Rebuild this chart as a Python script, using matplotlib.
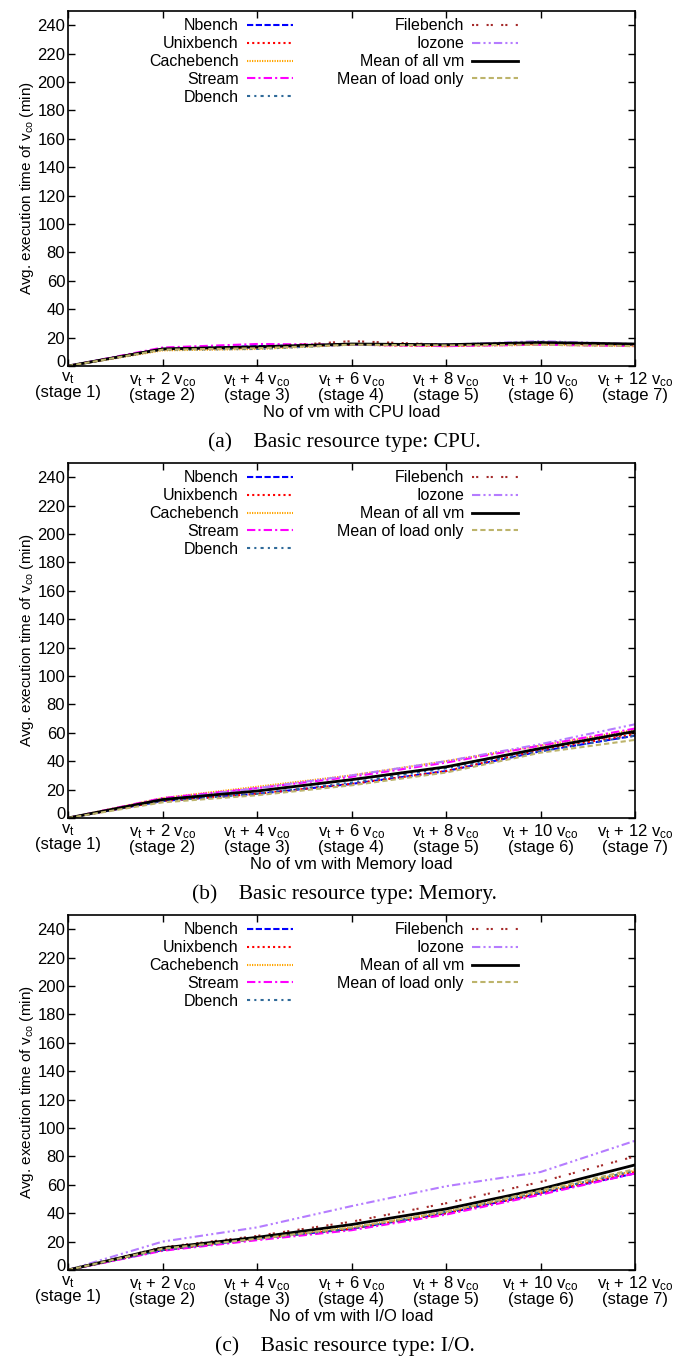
import matplotlib
matplotlib.use("Agg")
import matplotlib.pyplot as plt
import matplotlib.transforms as mtransforms
import numpy as np

plt.rcParams['font.family'] = ['Liberation Sans', 'DejaVu Sans']
plt.rcParams['mathtext.default'] = 'regular'

stages = [0, 1, 2, 3, 4, 5, 6]
stage_labels = ["$v_t$\n(stage 1)",
                "$v_t$ + 2 $v_{co}$\n(stage 2)",
                "$v_t$ + 4 $v_{co}$\n(stage 3)",
                "$v_t$ + 6 $v_{co}$\n(stage 4)",
                "$v_t$ + 8 $v_{co}$\n(stage 5)",
                "$v_t$ + 10 $v_{co}$\n(stage 6)",
                "$v_t$ + 12 $v_{co}$\n(stage 7)"]

names = ["Nbench", "Unixbench", "Cachebench", "Stream", "Dbench",
         "Filebench", "Iozone", "Mean of all vm", "Mean of load only"]

# CPU load
cpu_nbench = [0, 12, 14, 15, 15, 16, 15]
cpu_unixbench = [0, 12, 13, 15, 14, 16, 15]
cpu_cachebench = [0, 11, 12, 15, 14, 15, 14]
cpu_stream = [0, 13, 15.5, 15, 14, 15, 14]
cpu_dbench = [0, 11.5, 12, 15, 15, 17, 15]
cpu_filebench = [0, 12, 13, 17.5, 15, 16, 15]
cpu_iozone = [0, 12, 13, 15, 15, 17.5, 15.5]
cpu_mean_all = [0, 12, 13.5, 15.5, 15, 16.5, 15.5]
cpu_mean_load = [0, 11.5, 12.5, 15, 14.5, 15, 14]

# Memory load
mem_nbench = [0, 12, 17, 24, 33, 47, 58]
mem_unixbench = [0, 12, 17, 24, 33, 48, 59]
mem_cachebench = [0, 14, 22, 30, 40, 51, 62]
mem_stream = [0, 14, 21, 29, 39, 51, 63]
mem_dbench = [0, 12, 17, 25, 35, 47, 58]
mem_filebench = [0, 13, 19, 27, 36, 49, 60]
mem_iozone = [0, 13, 21, 30, 40, 52, 66]
mem_mean_all = [0, 13, 19, 27, 36, 49, 61]
mem_mean_load = [0, 11, 16, 23, 32, 46, 55]

# I/O load
io_nbench = [0, 14, 22, 29, 40, 54, 68]
io_unixbench = [0, 14, 22, 29, 40, 54, 69]
io_cachebench = [0, 15, 22, 30, 41, 55, 70]
io_stream = [0, 13.5, 21, 28, 39, 53, 68]
io_dbench = [0, 14, 22, 29, 41, 55, 70]
io_filebench = [0, 16, 24, 34, 47, 62, 80]
io_iozone = [0, 20, 30, 45, 59, 69, 91]
io_mean_all = [0, 15.5, 23, 32, 43, 57, 74]
io_mean_load = [0, 15, 22, 30, 41, 56, 71]

panels = [
    ([cpu_nbench, cpu_unixbench, cpu_cachebench, cpu_stream, cpu_dbench,
      cpu_filebench, cpu_iozone, cpu_mean_all, cpu_mean_load],
     "No of vm with CPU load", "(a)    Basic resource type: CPU."),
    ([mem_nbench, mem_unixbench, mem_cachebench, mem_stream, mem_dbench,
      mem_filebench, mem_iozone, mem_mean_all, mem_mean_load],
     "No of vm with Memory load", "(b)    Basic resource type: Memory."),
    ([io_nbench, io_unixbench, io_cachebench, io_stream, io_dbench,
      io_filebench, io_iozone, io_mean_all, io_mean_load],
     "No of vm with I/O load", "(c)    Basic resource type: I/O."),
]

colors = ['#0000ff', '#ff0000', '#ffa500', '#ff00ff', '#2f6a99',
          '#a52a2a', '#b57cff', '#000000', '#bdb46b']
styles = [(0, (3, 1.2)), (0, (1, 1.5)), (0, (0.6, 0.6)), (0, (4, 1.5, 1, 1.5)),
          (0, (1.5, 2, 1, 2)), (0, (1, 1, 1, 4)), (0, (4, 1.5, 1, 1.5, 1, 1.5)),
          '-', (0, (2.5, 1.5))]
widths = [1.5, 1.5, 1.5, 1.5, 1.5, 1.5, 1.5, 2.0, 1.5]

W, H = 689, 1359
fig = plt.figure(figsize=(W / 100, H / 100), dpi=100)

tops = [11, 463, 915]
ax_h = 355
for (series, xlabel, caption), top in zip(panels, tops):
    ax = fig.add_axes([68 / W, 1 - (top + ax_h) / H, 567 / W, ax_h / H])
    lines = []
    for vals, c, ls, lw, nm in zip(series, colors, styles, widths, names):
        ln, = ax.plot(stages, vals, color=c, linestyle=ls, linewidth=lw, label=nm)
        lines.append(ln)
    ax.set_xlim(0, 6)
    ax.set_ylim(0, 250)
    ax.set_yticks(np.arange(0, 241, 20))
    ax.set_xticks(stages)
    ax.set_xticklabels(stage_labels, fontsize=12, linespacing=0.95)
    ax.tick_params(axis='both', direction='in', top=True, right=True,
                   length=5, width=1, labelsize=12, pad=2)
    ax.tick_params(axis='x', pad=3)
    # lift the "0" so it clears the first stage label
    zero = ax.get_yticklabels()[0]
    zero.set_transform(zero.get_transform() +
                       mtransforms.ScaledTranslation(0, 5 / 100, fig.dpi_scale_trans))
    for s in ax.spines.values():
        s.set_linewidth(1.2)
    ax.set_ylabel("Avg. execution time of v$_{co}$ (min)", fontsize=11, labelpad=1)
    ax.set_xlabel(xlabel, fontsize=12, labelpad=1)

    leg_kw = dict(loc='upper right', markerfirst=False, frameon=False,
                  fontsize=11.5, handlelength=2.9, handletextpad=0.5,
                  labelspacing=0.18, borderpad=0, borderaxespad=0)
    leg1 = ax.legend(lines[:5], names[:5], bbox_to_anchor=(0.397, 0.979), **leg_kw)
    ax.add_artist(leg1)
    ax.legend(lines[5:], names[5:], bbox_to_anchor=(0.794, 0.979), **leg_kw)

    fig.text(0.5, 1 - (top + ax_h + 76) / H, caption, ha='center', va='center',
             fontsize=15.5, family='Liberation Serif')

fig.savefig("out.png", dpi=100)
